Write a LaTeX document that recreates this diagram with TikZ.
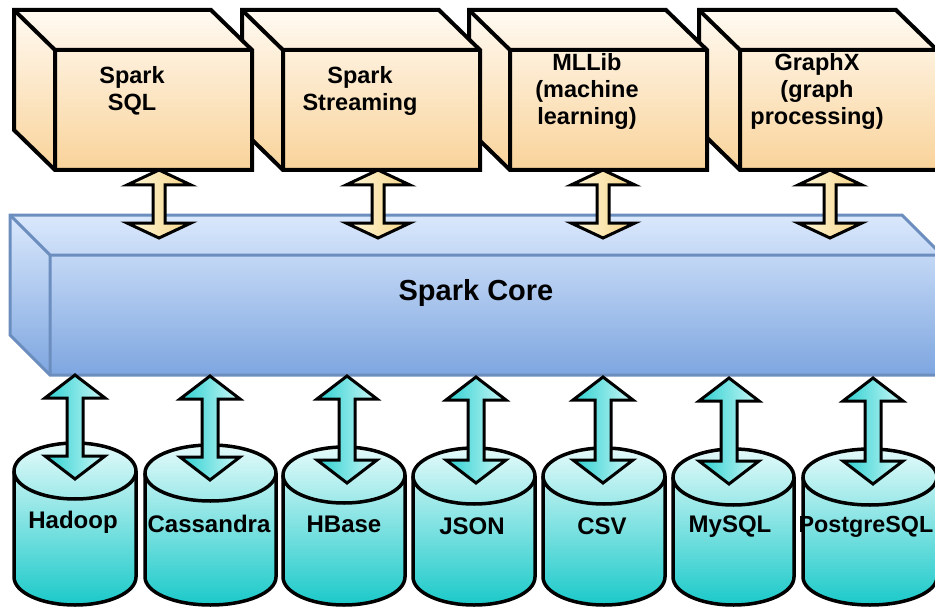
\documentclass[tikz,border=0pt]{standalone}
\usepackage{fontspec}
\setmainfont{Liberation Sans}
\usetikzlibrary{calc}
\definecolor{boxtop}{HTML}{FFFAF2}
\definecolor{boxbot}{HTML}{F9D39A}
\definecolor{coretop}{HTML}{DAE8FC}
\definecolor{corebot}{HTML}{7EA6E0}
\definecolor{coreline}{HTML}{6C8EBF}
\definecolor{cyltop}{HTML}{E4FAFA}
\definecolor{cylbot}{HTML}{1BC9C9}
\definecolor{arrdark}{HTML}{2CD0D0}
\definecolor{arrlight}{HTML}{CCF7F7}
\definecolor{yarrlight}{HTML}{FFF8DC}
\definecolor{yarrdark}{HTML}{F5D385}
\tikzset{
  boxface/.style={top color=boxtop, bottom color=boxbot, draw=black, line width=4pt},
  boxline/.style={draw=black, line width=4pt},
  toplabel/.style={font=\fontsize{23.5}{27}\selectfont\bfseries, align=center, inner sep=0pt},
  coreface/.style={top color=coretop, bottom color=corebot, draw=coreline, line width=3pt},
  coreedge/.style={draw=coreline, line width=3pt},
  corelabel/.style={font=\fontsize{29}{34}\selectfont\bfseries, inner sep=0pt},
  cylface/.style={top color=cyltop, bottom color=cylbot, draw=black, line width=3.5pt},
  cylline/.style={draw=black, line width=3.5pt},
  cyllabel/.style={font=\fontsize{24}{28}\selectfont\bfseries, inner sep=0pt},
  yarrow/.style={left color=yarrlight, right color=yarrdark, draw=black, line width=3pt},
  carrow/.style={left color=arrdark, right color=arrlight, draw=black, line width=3pt},
}
% #1 style, #2 top coordinate, #3 bottom coordinate, #4 half shaft, #5 half head, #6 head length
\newcommand\DblArr[6]{%
  \path[#1] let \p1=(#2), \p2=(#3) in
    (\x1,\y1) -- (\x1+#5pt,\y1-#6pt) -- (\x1+#4pt,\y1-#6pt) -- (\x1+#4pt,\y2+#6pt)
    -- (\x1+#5pt,\y2+#6pt) -- (\x1,\y2) -- (\x1-#5pt,\y2+#6pt) -- (\x1-#4pt,\y2+#6pt)
    -- (\x1-#4pt,\y1-#6pt) -- (\x1-#5pt,\y1-#6pt) -- cycle;
}
% #1 name, #2 front-left x, #3 label
\newcommand\SparkBox[3]{%
  \path[boxface] (#2-41,10) -- (#2+156,10) -- (#2+197,50) -- (#2+197,170) -- (#2,170) -- (#2-41,130) -- cycle;
  \draw[boxline] (#2-41,10) -- (#2,50) -- (#2+197,50) (#2,50) -- (#2,170);
  \node[toplabel] (#1) at (#2+77,91) {#3};
}
% #1 name, #2 cx, #3 half width, #4 top ellipse centre y, #5 label
\newcommand\DbCyl[5]{%
  \path[cylface] (#2-#3,#4) -- (#2-#3,577) arc[start angle=180,end angle=360,x radius=#3pt,y radius=28pt]
    -- (#2+#3,#4) arc[start angle=0,end angle=180,x radius=#3pt,y radius=28pt] -- cycle;
  \draw[cylline] (#2-#3,#4) arc[start angle=180,end angle=360,x radius=#3pt,y radius=28pt];
}
\begin{document}
\begin{tikzpicture}[x=1pt,y=-1pt]
\useasboundingbox (0,0) rectangle (935,607);
% top boxes (right to left so the left ones overlap)
\SparkBox{graphx}{740}{GraphX\\(graph\\processing)}
\SparkBox{mllib}{510}{MLLib\\(machine\\learning)}
\SparkBox{streaming}{283}{Spark\\Streaming}
\SparkBox{sql}{55}{Spark\\SQL}
% core
\path[coreface] (10,215) -- (902,215) -- (942,255) -- (942,375) -- (50,375) -- (10,335) -- cycle;
\draw[coreedge] (10,215) -- (50,255) -- (942,255) (50,255) -- (50,375);
\node[corelabel] (core) at (476,293) {Spark Core};
% top connectors
\coordinate (sqlA) at (159,170);       \coordinate (sqlB) at (159,238);
\coordinate (streamA) at (378,170);    \coordinate (streamB) at (378,238);
\coordinate (mllibA) at (603,170);     \coordinate (mllibB) at (603,238);
\coordinate (graphxA) at (830,170);    \coordinate (graphxB) at (830,238);
\DblArr{yarrow}{sqlA}{sqlB}{6}{32}{15}
\DblArr{yarrow}{streamA}{streamB}{6}{32}{15}
\DblArr{yarrow}{mllibA}{mllibB}{6}{32}{15}
\DblArr{yarrow}{graphxA}{graphxB}{6}{32}{15}
% data sources
\DbCyl{hadoop}{75}{61}{471}{}
\DbCyl{cassandra}{210.5}{65.5}{473}{}
\DbCyl{hbase}{344}{61}{475}{}
\DbCyl{json}{474}{61}{476}{}
\DbCyl{csv}{604}{61}{476}{}
\DbCyl{mysql}{733.5}{60.5}{477}{}
\DbCyl{postgres}{870}{67}{477}{}
\node[cyllabel] (hadoop) at (73,522) {Hadoop};
\node[cyllabel] (cassandra) at (209,524) {Cassandra};
\node[cyllabel] (hbase) at (344,524) {HBase};
\node[cyllabel] (json) at (472,526) {JSON};
\node[cyllabel] (csv) at (602,526) {CSV};
\node[cyllabel] (mysql) at (730,527) {MySQL};
\node[cyllabel, font=\fontsize{23.3}{28}\selectfont\bfseries] (postgres) at (866,527) {PostgreSQL};
% bottom connectors
\coordinate (hadoopA) at (75,375);     \coordinate (hadoopB) at (75,479);
\coordinate (cassA) at (210,376);      \coordinate (cassB) at (210,480);
\coordinate (hbaseA) at (347,376);     \coordinate (hbaseB) at (347,483);
\coordinate (jsonA) at (476,377);      \coordinate (jsonB) at (476,483);
\coordinate (csvA) at (603,377);       \coordinate (csvB) at (603,483);
\coordinate (mysqlA) at (729,378);     \coordinate (mysqlB) at (729,484);
\coordinate (pgA) at (873,378);        \coordinate (pgB) at (873,484);
\DblArr{carrow}{hadoopA}{hadoopB}{8}{30}{23}
\DblArr{carrow}{cassA}{cassB}{8}{30}{23}
\DblArr{carrow}{hbaseA}{hbaseB}{8}{30}{23}
\DblArr{carrow}{jsonA}{jsonB}{8}{30}{23}
\DblArr{carrow}{csvA}{csvB}{8}{30}{23}
\DblArr{carrow}{mysqlA}{mysqlB}{8}{30}{23}
\DblArr{carrow}{pgA}{pgB}{8}{30}{23}
\end{tikzpicture}
\end{document}
